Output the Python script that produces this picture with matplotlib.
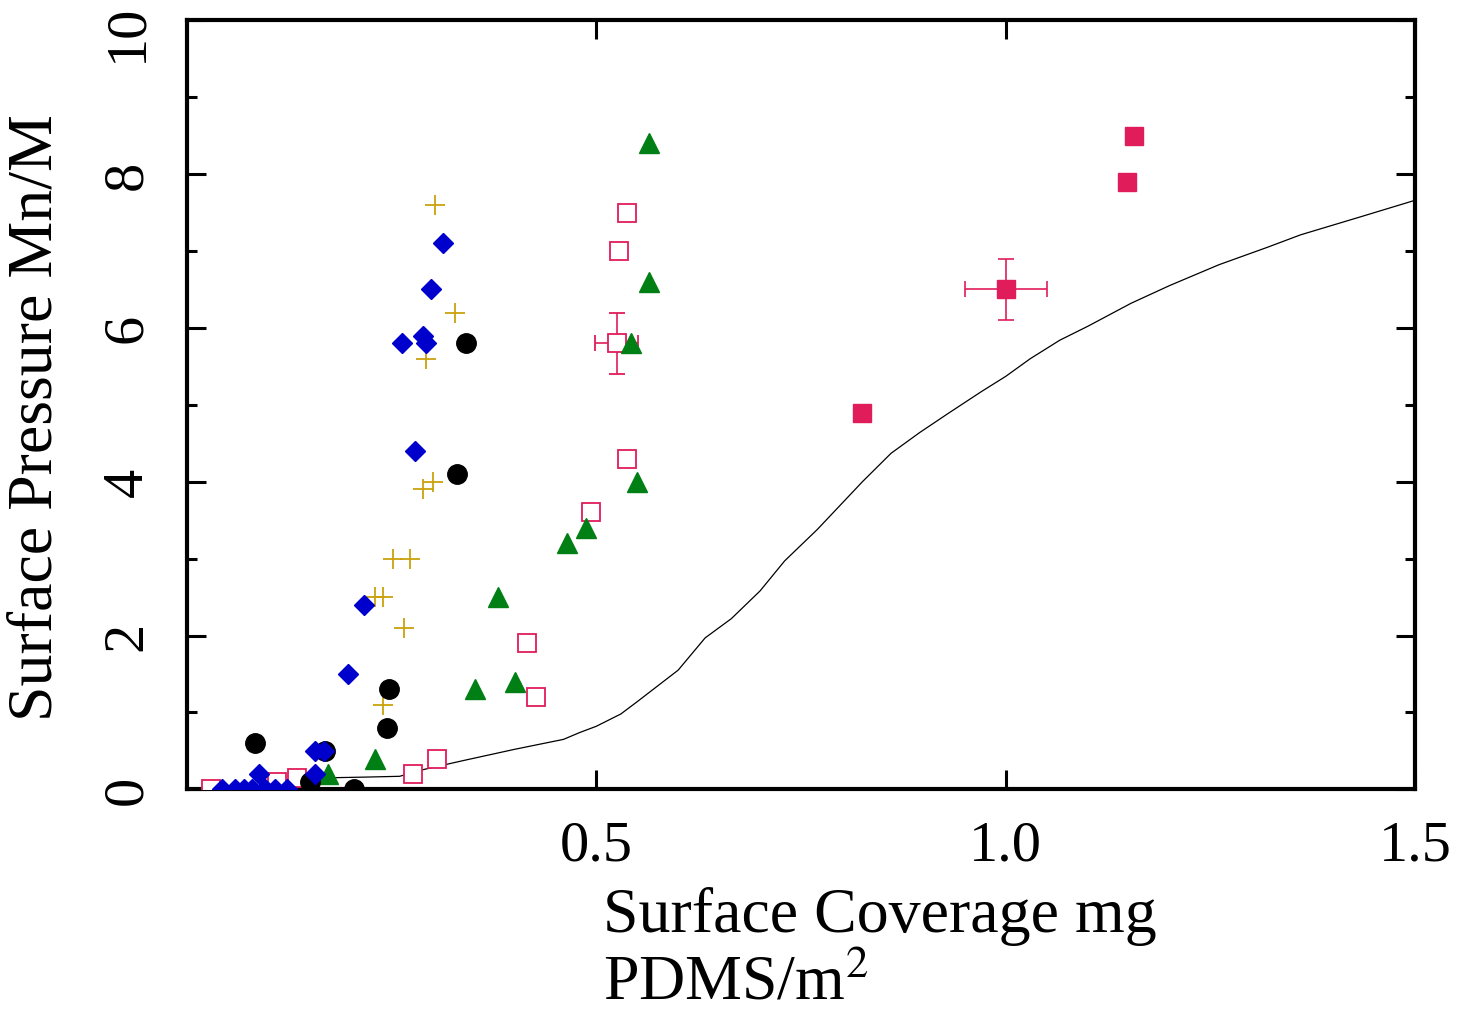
import numpy as np
import matplotlib
matplotlib.use("Agg")
import matplotlib.pyplot as plt
from matplotlib.transforms import ScaledTranslation

plt.rcParams["font.family"] = ["Liberation Serif", "DejaVu Serif"]
plt.rcParams["mathtext.fontset"] = "stix"

# blue diamonds
dia_x = [0.043, 0.059, 0.070, 0.080, 0.095, 0.108, 0.123, 0.088, 0.157, 0.168,
         0.157, 0.197, 0.217, 0.279, 0.263, 0.288, 0.292, 0.298, 0.3125]
dia_y = [0.0, 0.0, 0.0, 0.0, 0.0, 0.0, 0.0, 0.2, 0.5, 0.5,
         0.2, 1.5, 2.4, 4.4, 5.8, 5.9, 5.8, 6.5, 7.1]

# black circles
circ_x = [0.083, 0.151, 0.169, 0.204, 0.245, 0.247, 0.330, 0.341]
circ_y = [0.6, 0.1, 0.5, 0.0, 0.8, 1.3, 4.1, 5.8]

# gold crosses
plus_x = [0.303, 0.327, 0.292, 0.301, 0.288, 0.252, 0.273, 0.230, 0.240, 0.265, 0.240]
plus_y = [7.6, 6.2, 5.6, 4.0, 3.9, 3.0, 3.0, 2.5, 2.5, 2.1, 1.1]

# green triangles
tri_x = [0.172, 0.230, 0.352, 0.401, 0.380, 0.464, 0.487, 0.550, 0.543, 0.565, 0.564]
tri_y = [0.2, 0.4, 1.3, 1.4, 2.5, 3.2, 3.4, 4.0, 5.8, 6.6, 8.4]

# open squares
osq_x = [0.029, 0.110, 0.135, 0.276, 0.306, 0.426, 0.416, 0.493, 0.538, 0.528, 0.538]
osq_y = [0.0, 0.1, 0.15, 0.2, 0.4, 1.2, 1.9, 3.6, 4.3, 7.0, 7.5]
osq_err = (0.525, 5.8, 0.026, 0.4)  # x, y, xerr, yerr

# filled squares
fsq_x = [0.825, 1.148, 1.157]
fsq_y = [4.9, 7.9, 8.5]
fsq_err = (1.0, 6.5, 0.05, 0.4)

# model curve
curve_x = [0.14, 0.17, 0.22, 0.26, 0.29, 0.34, 0.40, 0.46, 0.48, 0.50, 0.53, 0.55,
           0.60, 0.633, 0.665, 0.70, 0.73, 0.77, 0.825, 0.86, 0.895, 0.93, 0.97,
           1.0, 1.03, 1.066, 1.1, 1.153, 1.2, 1.26, 1.32, 1.36, 1.435, 1.5]
curve_y = [0.12, 0.15, 0.16, 0.17, 0.26, 0.38, 0.52, 0.65, 0.74, 0.82, 0.98, 1.14,
           1.55, 1.97, 2.22, 2.58, 2.97, 3.38, 4.0, 4.37, 4.64, 4.89, 5.17,
           5.37, 5.6, 5.84, 6.02, 6.32, 6.55, 6.82, 7.05, 7.21, 7.45, 7.66]

crimson = "#e01c5a"

fig = plt.figure(figsize=(14.59, 10.12), dpi=100)
ax = fig.add_axes([0.128, 0.219, 0.842, 0.760])

ax.plot(curve_x, curve_y, color="black", lw=0.9, zorder=1)

ax.plot(osq_x, osq_y, "s", ms=13.5, mfc="white", mec=crimson, mew=1.3, ls="none", zorder=3)
ax.errorbar(osq_err[0], osq_err[1], xerr=osq_err[2], yerr=osq_err[3], fmt="s",
            ms=13.5, mfc="white", mec=crimson, mew=1.3, ecolor=crimson,
            elinewidth=1.2, capsize=6, capthick=1.2, zorder=3)

ax.plot(tri_x, tri_y, "^", ms=14, color="#007f14", ls="none", zorder=4)
ax.plot(plus_x, plus_y, "+", ms=14, mew=1.3, color="#c9a20c", ls="none", zorder=4)
ax.plot(circ_x, circ_y, "o", ms=14, color="black", ls="none", zorder=4)
ax.plot(dia_x, dia_y, "D", ms=10.5, color="#0000cc", ls="none", zorder=5)

ax.plot(fsq_x, fsq_y, "s", ms=13.5, color=crimson, ls="none", zorder=4)
ax.errorbar(fsq_err[0], fsq_err[1], xerr=fsq_err[2], yerr=fsq_err[3], fmt="s",
            ms=13.5, color=crimson, ecolor=crimson, elinewidth=1.2,
            capsize=6, capthick=1.2, zorder=4)

ax.set_xlim(0, 1.5)
ax.set_ylim(0, 10)
ax.set_xticks([0.5, 1.0, 1.5])
ax.set_xticklabels(["0.5", "1.0", "1.5"])
ax.set_yticks([0, 2, 4, 6, 8, 10])
ax.set_yticks([1, 3, 5, 7, 9], minor=True)

for s in ax.spines.values():
    s.set_linewidth(3)
    s.set_clip_on(False)

ax.tick_params(which="both", direction="in", top=True, right=True,
               labelsize=42, width=2.2)
ax.tick_params(which="major", length=14)
ax.tick_params(which="minor", length=7)
ax.tick_params(axis="x", pad=22)
ax.tick_params(axis="y", pad=24)
ylabels = ax.get_yticklabels()
for lab in ylabels:
    lab.set_rotation(90)
    lab.set_va("center")
# top label sits a little lower, as in the original
ylabels[-1].set_transform(ylabels[-1].get_transform()
                          + ScaledTranslation(0, -8 / 72, fig.dpi_scale_trans))

ax.set_ylabel("Surface Pressure Mn/M", fontsize=46)
ax.yaxis.set_label_coords(-0.099, 0.485)

fig.text(603 / 1459, 1 - 932 / 1012, "Surface Coverage mg", fontsize=46,
         ha="left", va="baseline")
fig.text(603 / 1459, 1 - 1000 / 1012, "PDMS/m$^2$", fontsize=46,
         ha="left", va="baseline")

fig.savefig("out.png", dpi=100)
